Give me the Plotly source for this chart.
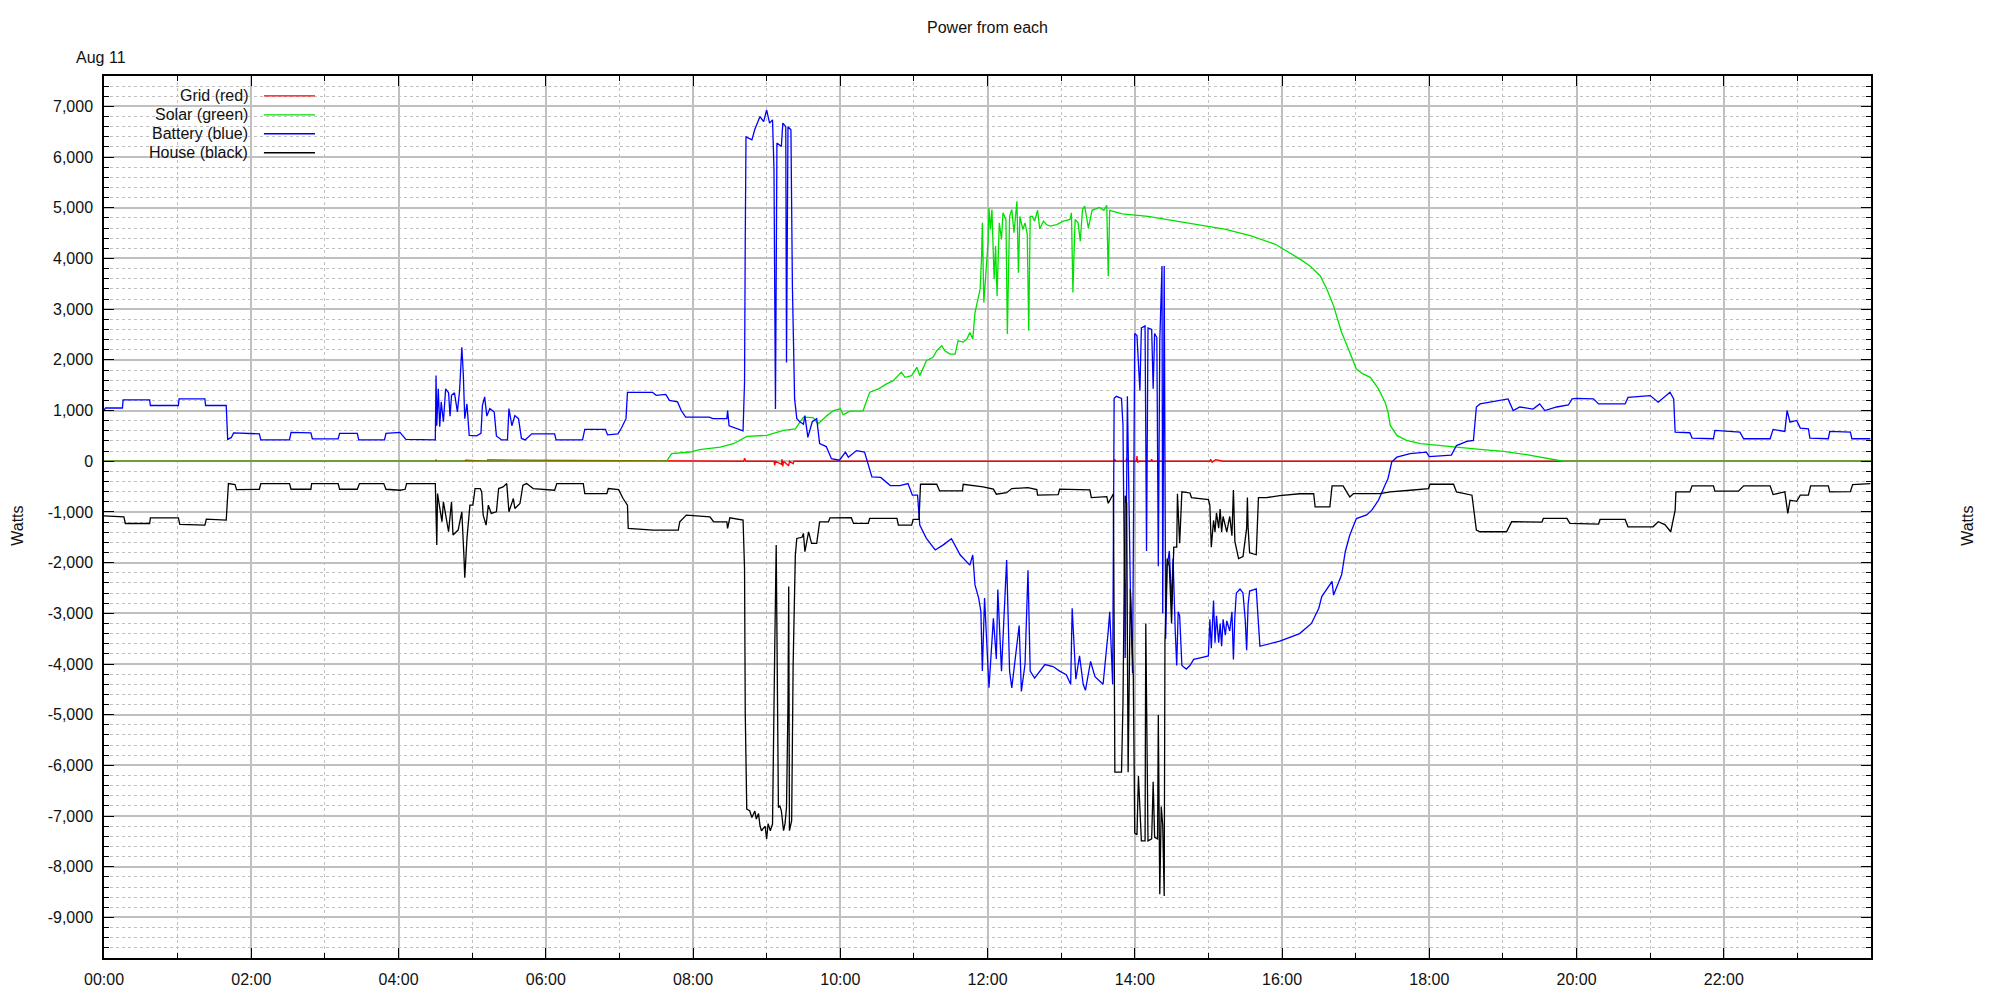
import plotly.graph_objects as go

# ---------------- data (time in decimal hours, power in watts) ----------------
grid_t = [0, 4.50, 4.51, 4.52, 4.90, 4.91, 5.20, 5.21, 8.69, 8.70, 8.72, 9.10, 9.11, 9.12, 9.20, 9.21,
          9.22, 9.23, 9.30, 9.31, 9.36, 9.37, 13.72, 13.73, 13.74, 13.88, 13.89, 13.90, 14.02, 14.03,
          14.04, 14.05, 14.22, 14.23, 14.24, 15.02, 15.03, 15.05, 15.10, 15.20, 24.0]
grid_w = [0, 0, 25, 0, 0, 20, 0, 25, 0, 60, 0, 0, -80, 0, -60, 40,
          -100, 0, -90, 0, -50, 0, 0, 40, 0, 0, 60, 0, 0, 100,
          -30, 0, 0, 40, 0, 0, 40, -20, 30, 0, 0]

solar_t = [0, 7.64, 7.71, 7.96, 8.09, 8.37, 8.55, 8.73, 9.00, 9.23, 9.39, 9.50, 9.63, 9.70, 9.82, 9.91,
           10.00, 10.04, 10.13, 10.31, 10.40, 10.52, 10.63, 10.72, 10.83, 10.88, 10.97, 11.04, 11.08,
           11.17, 11.26, 11.31, 11.38, 11.42, 11.49, 11.56, 11.60, 11.67, 11.72, 11.76, 11.80, 11.83,
           11.86, 11.90, 11.92, 11.93, 11.95, 11.98, 12.01, 12.02, 12.04, 12.06, 12.09, 12.11, 12.13,
           12.16, 12.19, 12.21, 12.25, 12.27, 12.30, 12.33, 12.36, 12.40, 12.42, 12.44, 12.48, 12.51,
           12.54, 12.56, 12.58, 12.61, 12.64, 12.68, 12.71, 12.76, 12.80, 12.85, 12.94, 13.03, 13.12,
           13.14, 13.16, 13.17, 13.19, 13.23, 13.26, 13.29, 13.32, 13.37, 13.42, 13.52, 13.58, 13.62,
           13.64, 13.66, 13.83, 14.18, 14.70, 15.22, 15.57, 15.91, 16.25, 16.38, 16.52, 16.61, 16.70,
           16.81, 16.92, 17.01, 17.10, 17.20, 17.31, 17.40, 17.44, 17.47, 17.56, 17.69, 17.88, 18.06,
           18.37, 18.69, 19.01, 19.32, 19.59, 19.82, 24.0]
solar_w = [0, 0, 150, 182, 228, 280, 346, 490, 510, 608, 640, 870, 860, 740, 900, 1000,
           1034, 916, 990, 995, 1361, 1427, 1525, 1590, 1754, 1656, 1690, 1853, 1689,
           1984, 2049, 2180, 2279, 2180, 2115, 2115, 2377, 2350, 2410, 2541, 2410, 2934,
           3130, 3393, 4048, 4703, 3130, 3786, 4375, 4998, 4572, 4965, 3589, 4244, 3261,
           4703, 4375, 4900, 4770, 2508, 4830, 4965, 4507, 5129, 3720, 4830, 4572, 4703,
           4470, 2573, 4830, 4830, 4736, 4952, 4585, 4736, 4670, 4640, 4670, 4736, 4770,
           4900, 3327, 3851, 4770, 4703, 4343, 4965, 5031, 4600, 4950, 5007, 4950, 5050,
           3650, 4950, 4880, 4830, 4700, 4580, 4450, 4280, 3982, 3851, 3655, 3393, 3065,
           2541, 2148, 1820, 1722, 1656, 1427, 1165, 968, 706, 510, 411, 346, 326,
           280, 234, 195, 129, 64, 0, 0]

battery_t = [0.00, 0.02, 0.25, 0.26, 0.62, 0.63, 1.01, 1.02, 1.37, 1.38, 1.66, 1.68, 1.73, 1.76, 2.11,
             2.13, 2.52, 2.54, 2.81, 2.83, 3.18, 3.20, 3.44, 3.46, 3.81, 3.83, 4.02, 4.05, 4.10, 4.50,
             4.51, 4.52, 4.54, 4.56, 4.58, 4.61, 4.64, 4.68, 4.70, 4.72, 4.76, 4.80, 4.83, 4.86, 4.88,
             4.90, 4.93, 4.96, 5.06, 5.12, 5.14, 5.17, 5.20, 5.24, 5.30, 5.33, 5.40, 5.48, 5.50, 5.54,
             5.58, 5.63, 5.67, 5.72, 5.81, 6.12, 6.14, 6.50, 6.53, 6.81, 6.84, 6.98, 7.03, 7.09, 7.11,
             7.45, 7.50, 7.63, 7.68, 7.79, 7.84, 7.90, 8.22, 8.27, 8.46, 8.47, 8.49, 8.68, 8.70, 8.71,
             8.72, 8.80, 8.84, 8.91, 8.96, 9.00, 9.04, 9.08, 9.10, 9.12, 9.14, 9.20, 9.22, 9.26, 9.27,
             9.29, 9.33, 9.35, 9.38, 9.41, 9.45, 9.50, 9.52, 9.56, 9.62, 9.68, 9.72, 9.81, 9.88, 9.99,
             10.07, 10.11, 10.22, 10.33, 10.37, 10.43, 10.55, 10.68, 10.81, 10.92, 10.98, 11.05, 11.08,
             11.17, 11.29, 11.40, 11.51, 11.63, 11.76, 11.80, 11.83, 11.88, 11.91, 11.93, 11.96, 12.02,
             12.08, 12.12, 12.14, 12.19, 12.26, 12.30, 12.33, 12.39, 12.43, 12.46, 12.51, 12.55, 12.58,
             12.64, 12.71, 12.78, 12.89, 12.98, 13.07, 13.13, 13.15, 13.20, 13.25, 13.30, 13.33, 13.40,
             13.46, 13.57, 13.64, 13.66, 13.70, 13.72, 13.75, 13.82, 13.84, 13.87, 13.90, 13.94, 13.97,
             14.00, 14.03, 14.07, 14.09, 14.14, 14.16, 14.18, 14.23, 14.25, 14.27, 14.30, 14.32, 14.34,
             14.37, 14.38, 14.40, 14.42, 14.44, 14.47, 14.50, 14.52, 14.55, 14.57, 14.59, 14.61, 14.64,
             14.70, 14.75, 14.80, 14.89, 15.00, 15.02, 15.04, 15.07, 15.09, 15.11, 15.14, 15.16, 15.18,
             15.20, 15.23, 15.25, 15.29, 15.32, 15.34, 15.36, 15.38, 15.43, 15.47, 15.50, 15.52, 15.54,
             15.56, 15.65, 15.68, 15.70, 15.97, 16.24, 16.40, 16.50, 16.54, 16.68, 16.70, 16.81, 16.86,
             16.92, 17.01, 17.15, 17.22, 17.31, 17.40, 17.44, 17.49, 17.56, 17.74, 17.96, 18.00, 18.30,
             18.37, 18.51, 18.60, 18.64, 18.69, 18.96, 19.07, 19.14, 19.23, 19.41, 19.50, 19.57, 19.73,
             19.89, 19.94, 20.00, 20.23, 20.30, 20.66, 20.70, 21.00, 21.11, 21.27, 21.32, 21.34, 21.54,
             21.57, 21.86, 21.88, 22.22, 22.27, 22.63, 22.67, 22.83, 22.86, 22.90, 22.99, 23.04, 23.15,
             23.17, 23.42, 23.44, 23.72, 23.74, 23.99]
battery_w = [1000, 1050, 1050, 1210, 1210, 1100, 1100, 1230, 1230, 1100, 1100, 430, 470, 560, 540,
             420, 420, 570, 560, 444, 440, 550, 550, 420, 420, 550, 570, 520, 430, 420,
             1690, 700, 1430, 680, 1170, 780, 1430, 1350, 890, 1300, 1350, 975, 1400, 2250, 1720,
             840, 1130, 510, 500, 550, 1100, 1270, 890, 1040, 970, 500, 420, 420, 1040, 700,
             900, 840, 450, 420, 540, 540, 420, 420, 630, 630, 520, 540, 660, 840, 1360,
             1360, 1300, 1320, 1200, 1170, 1000, 870, 870, 840, 840, 1000, 700, 600, 1560, 4440,
             6400, 6340, 6550, 6800, 6700, 6930, 6670, 6735, 5750, 1030, 6280, 6210, 6670, 6600, 1950,
             6600, 6540, 3460, 1230, 840, 780, 730, 900, 470, 780, 840, 350, 290, 50, 20,
             180, 80, 210, 180, -20, -310, -320, -480, -480, -440, -670, -670, -1260,
             -1520, -1750, -1650, -1530, -1850, -2050, -1850, -2440, -2700, -2960, -4140, -2700, -4470,
             -3100, -3900, -2530, -4140, -1950, -4140, -4470, -3690, -3240, -4540, -4000, -2150, -4140,
             -4280, -4140, -4010, -4050, -4140, -4210, -4400, -2900, -4300, -3840, -4400, -4520, -3950,
             -4250, -4400, -3350, -2970, -4400, 1240, 1280, 1240, 710, -3880, 1280, -2520, -4180,
             2520, 2480, 1390, 2630, 2670, -1770, 2630, 2600, 1430, 2520, 2440, -2070, 2370,
             3850, -3000, 3850, -3500, -2070, -1770, -2820, -1920, -3350, -4030, -2970, -3050, -4030,
             -4100, -4030, -3910, -3880, -3840, -3120, -3690, -2750, -3580, -3050, -3580, -3200, -3650,
             -3120, -3430, -3150, -3350, -2970, -3910, -3050, -2600, -2520, -2600, -3120, -3730, -2820,
             -2560, -2520, -3200, -3650, -3550, -3400, -3200, -2900, -2670, -2370, -2640, -2240, -1780,
             -1460, -1130, -1060, -965, -770, -470, -340, -15, 80, 150, 180, 90, 120,
             310, 390, 410, 1070, 1130, 1200, 1230, 1000, 1070, 1030, 1130, 1000, 1070,
             1110, 1230, 1240, 1230, 1130, 1130, 1260, 1296, 1165, 1362, 1231, 575, 562,
             457, 444, 608, 575, 444, 444, 628, 588, 1001, 772, 805, 654, 641,
             457, 444, 588, 575, 444, 444]

house_t = [0.00, 0.27, 0.29, 0.62, 0.63, 1.01, 1.03, 1.37, 1.39, 1.66, 1.69, 1.78, 1.80, 2.11, 2.13,
           2.52, 2.54, 2.81, 2.82, 3.18, 3.20, 3.44, 3.47, 3.80, 3.83, 4.02, 4.09, 4.11, 4.50, 4.52,
           4.53, 4.55, 4.59, 4.61, 4.68, 4.72, 4.74, 4.81, 4.86, 4.89, 4.90, 4.93, 4.95, 4.97, 5.01,
           5.04, 5.11, 5.13, 5.15, 5.19, 5.22, 5.26, 5.33, 5.36, 5.42, 5.47, 5.50, 5.56, 5.58, 5.65,
           5.69, 5.74, 5.83, 6.12, 6.15, 6.51, 6.53, 6.83, 6.85, 6.99, 7.05, 7.11, 7.12, 7.46, 7.64,
           7.80, 7.82, 7.91, 8.23, 8.28, 8.46, 8.47, 8.50, 8.68, 8.70, 8.71, 8.73, 8.77, 8.80, 8.84,
           8.86, 8.89, 8.91, 8.93, 8.98, 9.00, 9.02, 9.05, 9.08, 9.09, 9.11, 9.13, 9.15, 9.16, 9.18,
           9.20, 9.23, 9.25, 9.27, 9.29, 9.30, 9.31, 9.34, 9.36, 9.39, 9.41, 9.48, 9.50, 9.52, 9.57,
           9.61, 9.68, 9.72, 9.84, 9.86, 10.15, 10.18, 10.38, 10.40, 10.77, 10.79, 10.97, 10.99, 11.07,
           11.09, 11.31, 11.35, 11.66, 11.67, 11.94, 12.08, 12.12, 12.26, 12.33, 12.55, 12.67, 12.68,
           12.96, 12.98, 13.39, 13.41, 13.62, 13.64, 13.71, 13.73, 13.82, 13.84, 13.87, 13.89, 13.91,
           13.94, 13.98, 14.00, 14.03, 14.05, 14.09, 14.14, 14.15, 14.18, 14.23, 14.25, 14.27, 14.31,
           14.32, 14.34, 14.36, 14.38, 14.40, 14.41, 14.44, 14.47, 14.50, 14.53, 14.57, 14.58, 14.61,
           14.64, 14.75, 14.77, 15.00, 15.02, 15.04, 15.07, 15.09, 15.11, 15.14, 15.16, 15.18, 15.20,
           15.25, 15.29, 15.32, 15.34, 15.36, 15.41, 15.47, 15.52, 15.53, 15.54, 15.56, 15.65, 15.68,
           15.79, 15.97, 16.24, 16.43, 16.45, 16.65, 16.68, 16.83, 16.92, 16.97, 17.33, 17.47, 17.74,
           17.99, 18.01, 18.33, 18.37, 18.58, 18.64, 18.69, 19.05, 19.12, 19.53, 19.55, 19.87, 19.91,
           20.30, 20.32, 20.66, 20.70, 21.04, 21.11, 21.20, 21.28, 21.34, 21.35, 21.54, 21.57, 21.86,
           21.88, 22.20, 22.27, 22.63, 22.67, 22.83, 22.87, 22.90, 22.99, 23.04, 23.15, 23.18, 23.42,
           23.44, 23.72, 23.75, 23.99]
house_w = [-1077, -1096, -1228, -1228, -1116, -1116, -1247, -1260, -1142, -1162, -441, -460, -559, -553, -441,
           -441, -553, -553, -441, -441, -553, -553, -441, -441, -553, -572, -553, -441, -441, -1653,
           -637, -800, -1194, -800, -1391, -800, -1456, -1358, -997, -1915, -2300, -1522, -1260, -866, -866,
           -539, -539, -604, -1063, -1260, -866, -1030, -997, -539, -506, -440, -997, -735, -932, -834,
           -473, -440, -539, -572, -440, -440, -637, -637, -539, -560, -735, -866, -1325, -1358, -1358,
           -1358, -1194, -1063, -1096, -1194, -1195, -1326, -1116, -1161, -2112, -4996, -6863, -6896, -7027, -6900,
           -7060, -6950, -7191, -7289, -7200, -7453, -7150, -7289, -7158, -6274, -3718, -1654, -4275, -6830, -6800,
           -6896, -7289, -7150, -6830, -4799, -2473, -7289, -7093, -4013, -1850, -1523, -1500, -1424, -1785, -1392,
           -1621, -1621, -1195, -1195, -1116, -1115, -1227, -1227, -1129, -1129, -1260, -1260, -1148, -1148,
           -454, -454, -585, -585, -454, -506, -550, -650, -620, -539, -520, -560, -670,
           -660, -552, -566, -716, -700, -830, -641, -6134, -6134, -4780, -679, -830, -6134,
           -2522, -4215, -7338, -7370, -6209, -7488, -7488, -3199, -7488, -7450, -6322, -7420, -7450,
           -5005, -8541, -6811, -7187, -8579, -3576, -1920, -2071, -3199, -1695, -1695, -641, -1619,
           -604, -626, -716, -755, -867, -1695, -1168, -1394, -1020, -1320, -942, -1394, -1090,
           -1394, -1090, -1469, -566, -1582, -1920, -1880, -1320, -716, -1320, -1807, -1845, -716,
           -716, -679, -641, -638, -899, -899, -487, -487, -703, -640, -640, -605, -572,
           -539, -454, -454, -605, -670, -1358, -1391, -1391, -1194, -1200, -1129, -1129, -1227,
           -1240, -1148, -1148, -1293, -1293, -1194, -1250, -1391, -965, -604, -604, -486, -486,
           -591, -591, -486, -486, -657, -604, -1030, -768, -790, -670, -670, -486, -486,
           -604, -600, -460, -440]

series_names = ["Grid (red)", "Solar (green)", "Battery (blue)", "House (black)"]
series_colors = ["#ff0000", "#00e000", "#0000ff", "#000000"]

x_tick_vals = [0, 2, 4, 6, 8, 10, 12, 14, 16, 18, 20, 22]
x_tick_text = ["00:00", "02:00", "04:00", "06:00", "08:00", "10:00", "12:00",
               "14:00", "16:00", "18:00", "20:00", "22:00"]
y_tick_vals = [7000, 6000, 5000, 4000, 3000, 2000, 1000, 0, -1000, -2000, -3000,
               -4000, -5000, -6000, -7000, -8000, -9000]
y_tick_text = ["7,000", "6,000", "5,000", "4,000", "3,000", "2,000", "1,000", "0", "-1,000",
               "-2,000", "-3,000", "-4,000", "-5,000", "-6,000", "-7,000", "-8,000", "-9,000"]

# ---------------- figure ----------------
FONT = "Liberation Sans, Arial, sans-serif"
FS = 16
GRID_C = "#c0c0c0"

fig = go.Figure()
for (t, w), name, col in zip([(grid_t, grid_w), (solar_t, solar_w), (battery_t, battery_w), (house_t, house_w)],
                             series_names, series_colors):
    fig.add_trace(go.Scatter(x=t, y=w, mode="lines", name=name,
                             line=dict(color=col, width=1.3), showlegend=False))

axis_common = dict(showline=True, linecolor="black", linewidth=1.5, ticks="inside",
                   tickcolor="black", ticklen=10, tickwidth=1, mirror="allticks",
                   showgrid=True, gridcolor=GRID_C, gridwidth=2, zeroline=False,
                   tickfont=dict(family=FONT, size=FS, color="#111"))

fig.update_layout(
    width=2000, height=1000,
    margin=dict(l=104, r=129, t=76, b=39),
    paper_bgcolor="white", plot_bgcolor="white",
    font=dict(family=FONT, size=FS, color="#111"),
    title=dict(text="Power from each", x=0.5, xref="paper", y=0.973, yref="container",
               xanchor="center", yanchor="middle", font=dict(family=FONT, size=FS, color="#111")),
    xaxis=dict(range=[0, 24], tickmode="array", tickvals=x_tick_vals, ticktext=x_tick_text,
               ticklabelstandoff=6,
               minor=dict(tickmode="linear", tick0=0, dtick=1, ticks="inside", ticklen=5,
                          tickcolor="black", showgrid=True, gridcolor=GRID_C, gridwidth=1,
                          griddash="3px,3px"),
               **axis_common),
    yaxis=dict(range=[-9800, 7600], tickmode="array", tickvals=y_tick_vals, ticktext=y_tick_text,
               ticklabelstandoff=6,
               minor=dict(tickmode="linear", tick0=0, dtick=200, ticks="inside", ticklen=5,
                          tickcolor="black", showgrid=True, gridcolor=GRID_C, gridwidth=1,
                          griddash="3px,3px"),
               **axis_common),
    yaxis2=dict(range=[-9800, 7600], overlaying="y", side="right", tickmode="array",
                tickvals=y_tick_vals, ticktext=y_tick_text, showgrid=False, zeroline=False,
                showline=False, ticks="", ticklabelstandoff=8,
                tickfont=dict(family=FONT, size=FS, color="#111")),
    showlegend=False,
)

annotations = [
    dict(text="Aug 11", xref="paper", yref="paper", x=-0.0017, y=1.0215, xanchor="center",
         yanchor="middle", showarrow=False, font=dict(family=FONT, size=FS, color="#111")),
    dict(text="Watts", xref="paper", yref="paper", x=-0.0487, y=0.49, textangle=-90,
         xanchor="center", yanchor="middle", showarrow=False,
         font=dict(family=FONT, size=FS, color="#111")),
    dict(text="Watts", xref="paper", yref="paper", x=1.0549, y=0.49, textangle=-90,
         xanchor="center", yanchor="middle", showarrow=False,
         font=dict(family=FONT, size=FS, color="#111")),
]
shapes = [dict(type="rect", xref="paper", yref="paper", x0=0.0, x1=0.124, y0=0.9017, y1=1.0,
               fillcolor="white", line=dict(width=0), layer="between")]
legend_y = [0.9774, 0.956, 0.9345, 0.913]
for name, col, ly in zip(series_names, series_colors, legend_y):
    annotations.append(dict(text=name, xref="paper", yref="paper", x=0.0826, y=ly,
                            xanchor="right", yanchor="middle", showarrow=False,
                            font=dict(family=FONT, size=FS, color="#111")))
    shapes.append(dict(type="line", xref="paper", yref="paper", x0=0.0905, x1=0.1194,
                       y0=ly, y1=ly, line=dict(color=col, width=1.3), layer="above"))
fig.update_layout(annotations=annotations, shapes=shapes)

fig.write_html("out.html", config={"displayModeBar": False},
               post_script="document.body.style.margin='0';document.body.style.overflow='hidden';")
